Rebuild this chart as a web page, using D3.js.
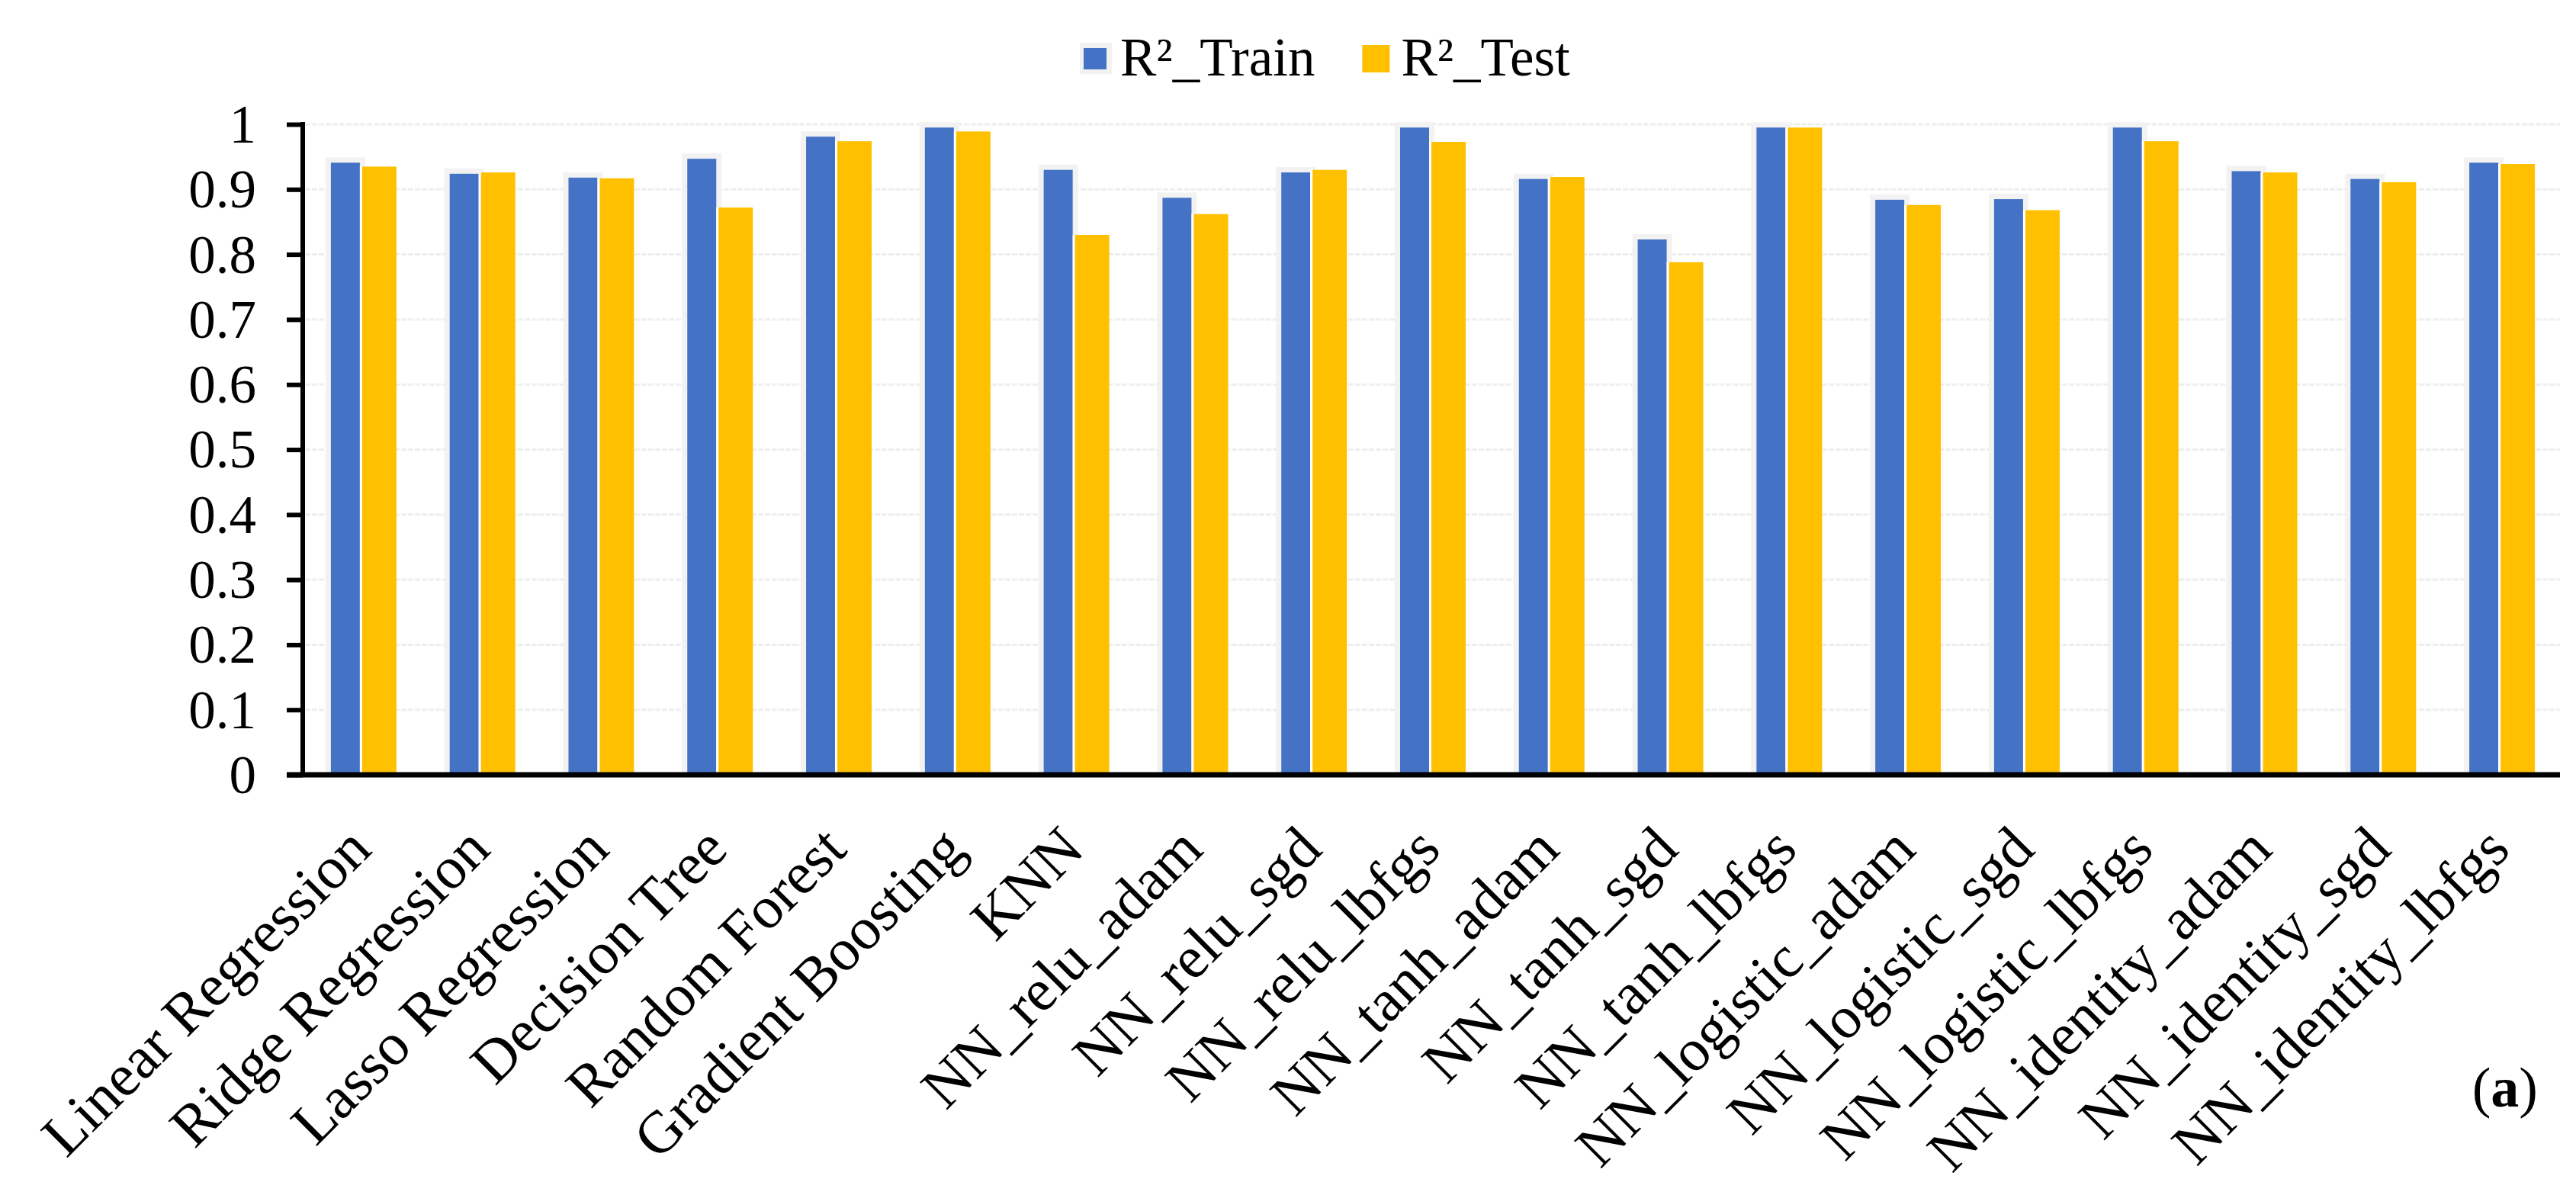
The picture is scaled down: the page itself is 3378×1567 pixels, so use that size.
<!DOCTYPE html>
<html>
<head>
<meta charset="utf-8">
<script src="https://cdn.jsdelivr.net/npm/d3@7"></script>
<style>
  body { margin: 0; background: #fff; }
  svg { display: block; font-family: "Liberation Serif", "Times New Roman", serif; }
</style>
</head>
<body>
<div id="chart"></div>
<script>
const models = ["Linear Regression", "Ridge Regression", "Lasso Regression", "Decision Tree",
  "Random Forest", "Gradient Boosting", "KNN", "NN_relu_adam", "NN_relu_sgd", "NN_relu_lbfgs",
  "NN_tanh_adam", "NN_tanh_sgd", "NN_tanh_lbfgs", "NN_logistic_adam", "NN_logistic_sgd",
  "NN_logistic_lbfgs", "NN_identity_adam", "NN_identity_sgd", "NN_identity_lbfgs"];
const series = ["R²_Train", "R²_Test"];
const r2Train = [0.941, 0.924, 0.918, 0.947, 0.981, 0.995, 0.930, 0.887, 0.926, 0.995,
  0.916, 0.823, 0.995, 0.884, 0.885, 0.995, 0.928, 0.916, 0.941];
const r2Test = [0.935, 0.926, 0.917, 0.872, 0.974, 0.989, 0.830, 0.862, 0.930, 0.973,
  0.919, 0.788, 0.995, 0.876, 0.868, 0.974, 0.926, 0.911, 0.939];
const yTicks = [0, 0.1, 0.2, 0.3, 0.4, 0.5, 0.6, 0.7, 0.8, 0.9, 1];

const colors = { "R²_Train": "#4472C4", "R²_Test": "#FFC000" };
const glow = "#f2f2f2";

const width = 3378, height = 1567;
const plotL = 397, plotR = 3357, plotT = 163, plotB = 1016;

const rows = models.map((m, i) => ({ name: m, values: [r2Train[i], r2Test[i]] }));

const svg = d3.select("#chart").append("svg")
    .attr("width", width)
    .attr("height", height);

const x = d3.scaleBand().domain(models).range([plotL, plotR]);
const y = d3.scaleLinear().domain([0, 1]).range([plotB, plotT]);
const bw = x.bandwidth();
const xInner = d3.scaleBand().domain(series)
    .range([bw / 2 - 48, bw / 2 + 45])
    .paddingInner(3 / 48);
const sw = xInner.bandwidth();

// grid
svg.append("g")
  .selectAll("line")
  .data(yTicks.filter(d => d > 0))
  .join("line")
    .attr("x1", plotL + 3).attr("x2", plotR)
    .attr("y1", d => y(d)).attr("y2", d => y(d))
    .attr("stroke", "#eeeeee")
    .attr("stroke-width", 3)
    .attr("stroke-dasharray", "7,2");

// bars
const group = svg.append("g")
  .selectAll("g")
  .data(rows)
  .join("g")
    .attr("transform", d => `translate(${x(d.name)},0)`);

// train bars with soft grey glow
group.append("rect")
    .attr("x", xInner(series[0]))
    .attr("y", d => y(d.values[0]) - 7)
    .attr("width", sw + 7)
    .attr("height", d => y(0) - y(d.values[0]) + 7)
    .attr("fill", glow);
group.append("rect")
    .attr("x", xInner(series[0]) + 7)
    .attr("y", d => y(d.values[0]))
    .attr("width", sw - 7)
    .attr("height", d => y(0) - y(d.values[0]))
    .attr("fill", colors[series[0]]);

// test bars, white gap on the left
group.append("rect")
    .attr("x", xInner(series[1]) - 3)
    .attr("y", d => y(d.values[1]))
    .attr("width", sw + 3)
    .attr("height", d => y(0) - y(d.values[1]))
    .attr("fill", "#fff");
group.append("rect")
    .attr("x", xInner(series[1]))
    .attr("y", d => y(d.values[1]))
    .attr("width", sw)
    .attr("height", d => y(0) - y(d.values[1]))
    .attr("fill", colors[series[1]]);

// y axis
const yAxis = svg.append("g")
    .attr("transform", `translate(${plotL},0)`)
    .call(d3.axisLeft(y).tickValues(yTicks).tickFormat(d3.format("~g")).tickSize(21).tickPadding(40));
yAxis.select(".domain").remove();
yAxis.selectAll(".tick line").attr("stroke", "#000").attr("stroke-width", 6);
yAxis.selectAll(".tick text")
    .attr("fill", "#000")
    .attr("font-size", 71)
    .attr("font-family", "Liberation Serif, Times New Roman, serif")
    .attr("dy", "0.33em");
svg.append("line")
    .attr("x1", plotL).attr("x2", plotL)
    .attr("y1", plotT - 3).attr("y2", plotB)
    .attr("stroke", "#000").attr("stroke-width", 6);

// x axis
svg.append("line")
    .attr("x1", plotL - 21).attr("x2", plotR)
    .attr("y1", plotB).attr("y2", plotB)
    .attr("stroke", "#000").attr("stroke-width", 7);

svg.append("g")
  .selectAll("text")
  .data(models)
  .join("text")
    .attr("transform", d => `translate(${x(d) + bw / 2 + 15},1117) rotate(-45)`)
    .attr("text-anchor", "end")
    .attr("font-size", 78)
    .attr("fill", "#000")
    .text(d => d);

// legend
const legend = svg.append("g").attr("transform", "translate(1421,0)");
let cx = 0;
series.forEach((s, i) => {
  const g = legend.append("g").attr("transform", `translate(${cx},0)`);
  if (i === 0) {
    g.append("rect").attr("x", -5).attr("y", 56).attr("width", 42).attr("height", 41).attr("fill", glow);
    g.append("rect").attr("x", 0).attr("y", 63).attr("width", 30).attr("height", 28).attr("fill", colors[s]);
  } else {
    g.append("rect").attr("x", 0).attr("y", 59).attr("width", 36).attr("height", 36).attr("fill", colors[s]);
  }
  const t = g.append("text")
      .attr("x", i === 0 ? 48 : 51)
      .attr("y", 99)
      .attr("font-size", 71)
      .attr("fill", "#000")
      .text(s);
  cx += (i === 0 ? 48 : 51) + t.node().getComputedTextLength() + 62;
});

// panel label
svg.append("text")
    .attr("x", 3328).attr("y", 1451)
    .attr("text-anchor", "end")
    .attr("font-size", 74)
    .attr("fill", "#000")
    .call(t => {
      t.append("tspan").text("(");
      t.append("tspan").attr("font-weight", "bold").text("a");
      t.append("tspan").text(")");
    });
</script>
</body>
</html>
